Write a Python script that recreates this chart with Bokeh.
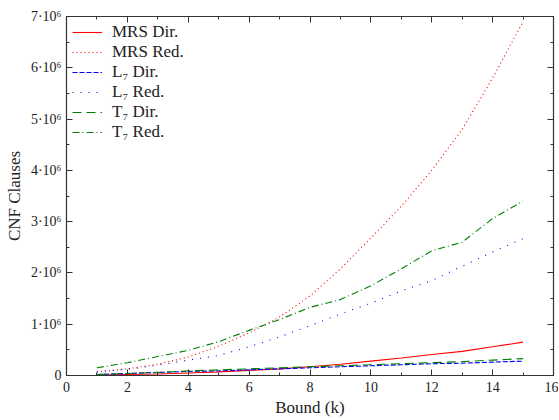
from bokeh.plotting import figure
from bokeh.models import LinearAxis, CustomJSTickFormatter, Range1d, SingleIntervalTicker, Legend, LegendItem
from bokeh.embed import file_html
from bokeh.resources import INLINE

k = list(range(1, 16))
mrs_dir = [0.01, 0.02, 0.03, 0.05, 0.07, 0.10, 0.13, 0.17, 0.22, 0.28, 0.34, 0.41, 0.47, 0.56, 0.65]
mrs_red = [0.07, 0.13, 0.22, 0.36, 0.57, 0.83, 1.14, 1.55, 2.08, 2.68, 3.30, 4.00, 4.80, 5.80, 6.90]
l7_dir = [0.02, 0.04, 0.06, 0.08, 0.09, 0.11, 0.13, 0.15, 0.17, 0.19, 0.21, 0.23, 0.24, 0.26, 0.28]
l7_red = [0.07, 0.12, 0.20, 0.30, 0.39, 0.56, 0.75, 0.97, 1.20, 1.41, 1.65, 1.85, 2.13, 2.41, 2.67]
t7_dir = [0.02, 0.04, 0.06, 0.09, 0.11, 0.13, 0.15, 0.17, 0.19, 0.21, 0.23, 0.25, 0.27, 0.30, 0.33]
t7_red = [0.15, 0.25, 0.37, 0.49, 0.66, 0.88, 1.09, 1.33, 1.48, 1.75, 2.08, 2.43, 2.60, 3.06, 3.40]

series = [
    ("MRS Dir.", mrs_dir, "red", "solid"),
    ("MRS Red.", mrs_red, "red", "1 3"),
    ("L\u2087 Dir.", l7_dir, "blue", "5 2"),
    ("L\u2087 Red.", l7_red, "blue", "1 7"),
    ("T\u2087 Dir.", t7_dir, "green", "9 5"),
    ("T\u2087 Red.", t7_red, "green", "7 3 1 3"),
]

FONT = "Liberation Serif"

p = figure(width=558, height=419, output_backend="svg", toolbar_location=None,
           x_range=Range1d(0, 16), y_range=Range1d(0, 7e6),
           min_border_left=66, min_border_right=5, min_border_top=16, min_border_bottom=42)
p.background_fill_color = "white"
p.border_fill_color = "white"
p.grid.visible = False
p.outline_line_color = "#333333"
p.outline_line_width = 1.2

items = []
for name, vals, col, dash in series:
    r = p.line(k, [v * 1e6 for v in vals], line_color=col, line_dash=dash, line_width=1.1)
    items.append(LegendItem(label=name, renderers=[r]))

leg = Legend(items=items, location="top_left")
leg.border_line_color = None
leg.background_fill_alpha = 0
leg.label_text_font = FONT
leg.label_text_font_size = "17px"
leg.label_text_color = "#222222"
leg.glyph_width = 30
leg.glyph_height = 20
leg.label_height = 20
leg.spacing = 0
leg.margin = 6
leg.padding = 9
leg.label_standoff = 10
p.add_layout(leg)

yfmt = CustomJSTickFormatter(code="""
if (tick == 0) return "0";
return (tick/1e6).toFixed(0) + "\u00b710\u2076";
""")
blank = CustomJSTickFormatter(code='return "";')

def style(ax, labels=True):
    ax.axis_line_color = "#333333"
    ax.major_tick_line_color = "#333333"
    ax.minor_tick_line_color = "#333333"
    ax.major_tick_in = 6
    ax.major_tick_out = 0
    ax.minor_tick_in = 3
    ax.minor_tick_out = 0
    ax.major_label_text_font = FONT
    ax.major_label_text_font_size = "14px"
    ax.major_label_text_color = "#222222"
    ax.axis_label_text_font = FONT
    ax.axis_label_text_font_size = "17px"
    ax.axis_label_text_font_style = "normal"
    ax.axis_label_text_color = "#222222"
    if not labels:
        ax.formatter = blank
        ax.major_label_standoff = 0

xt = SingleIntervalTicker(interval=2, num_minor_ticks=2)
yt = SingleIntervalTicker(interval=1e6, num_minor_ticks=2)

p.xaxis.ticker = xt
p.yaxis.ticker = yt
p.yaxis.formatter = yfmt
p.xaxis.axis_label = "Bound (k)"
p.yaxis.axis_label = "CNF Clauses"
p.xaxis.axis_label_standoff = 3
p.yaxis.axis_label_standoff = 4
p.xaxis.major_label_standoff = 6
p.yaxis.major_label_standoff = 5
style(p.xaxis[0])
style(p.yaxis[0])

top = LinearAxis(ticker=SingleIntervalTicker(interval=2, num_minor_ticks=2))
right = LinearAxis(ticker=SingleIntervalTicker(interval=1e6, num_minor_ticks=2))
style(top, False)
style(right, False)
p.add_layout(top, "above")
p.add_layout(right, "right")

open("out.html", "w").write(file_html(p, INLINE))
